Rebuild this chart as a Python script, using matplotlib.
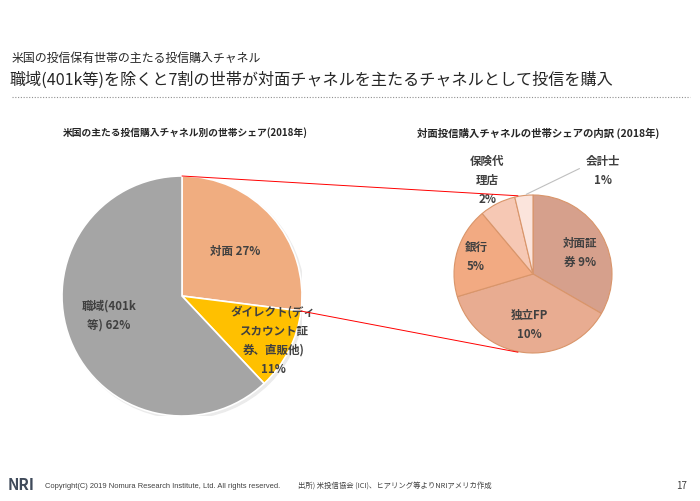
import matplotlib
matplotlib.use("Agg")
import matplotlib.pyplot as plt
from matplotlib.patches import ConnectionPatch, Circle
import numpy as np

plt.rcParams['font.family'] = ['Noto Sans CJK JP', 'DejaVu Sans']

# ---- data ----
main_labels = ["対面 27%", "ダイレクト(ディ\nスカウント証\n券、直販他)\n11%", "職域(401k\n等) 62%"]
main_values = [27, 11, 62]
main_colors = ["#F0AD80", "#FFC000", "#A5A5A5"]

sub_labels = ["対面証\n券 9%", "独立FP\n10%", "銀行\n5%", "保険代\n理店\n2%", "会計士\n1%"]
sub_values = [9, 10, 5, 2, 1]
sub_colors = ["#D6A08C", "#E8AC91", "#F2AA82", "#F6C8B4", "#FBE4DC"]

W, H = 700, 501
fig = plt.figure(figsize=(W / 100, H / 100), dpi=100)
fig.patch.set_facecolor("white")

def px_axes(cx, cy, r):
    return fig.add_axes([(cx - r) / W, (H - cy - r) / H, 2 * r / W, 2 * r / H])

txt = "#404040"

# titles
fig.text(12 / W, 1 - 58 / H, "米国の投信保有世帯の主たる投信購入チャネル", fontsize=8.6, color="#262626", va="center")
fig.text(10 / W, 1 - 80 / H, "職域(401k等)を除くと7割の世帯が対面チャネルを主たるチャネルとして投信を購入",
         fontsize=11.6, color="#262626", va="center")
fig.add_artist(plt.Line2D([12 / W, 690 / W], [1 - 97 / H, 1 - 97 / H], color="#909090", lw=0.8,
                          linestyle=(0, (1, 1.5)), transform=fig.transFigure))

fig.text(185 / W, 1 - 133 / H, "米国の主たる投信購入チャネル別の世帯シェア(2018年)", fontsize=7, fontweight="bold",
         color="#262626", ha="center", va="center")
fig.text(538 / W, 1 - 133 / H, "対面投信購入チャネルの世帯シェアの内訳 (2018年)", fontsize=7.5, fontweight="bold",
         color="#262626", ha="center", va="center")

# left pie
ax1 = px_axes(182, 296, 120)
ax1.add_patch(Circle((0.02, -0.02), 1.0, color="#EBEBEB", zorder=0))
w1, _ = ax1.pie(main_values, colors=main_colors, startangle=90, counterclock=False,
                wedgeprops=dict(edgecolor="white", linewidth=1.2))
ax1.set_xlim(-1, 1); ax1.set_ylim(-1, 1); ax1.set_aspect("equal"); ax1.axis("off")

lab_pos1 = [(0.44, 0.375), (0.76, -0.375), (-0.61, -0.16)]
for (x, y), lab in zip(lab_pos1, main_labels):
    ax1.text(x, y, lab, ha="center", va="center", fontsize=8.3, fontweight="bold", color=txt, linespacing=1.6)

# right pie
ax2 = px_axes(533, 274, 79)
w2, _ = ax2.pie(sub_values, colors=sub_colors, startangle=90, counterclock=False,
                wedgeprops=dict(edgecolor="#D9956A", linewidth=0.8))
ax2.set_xlim(-1, 1); ax2.set_ylim(-1, 1); ax2.set_aspect("equal"); ax2.axis("off")

lab_pos2 = [(0.6, 0.27), (-0.04, -0.64), (-0.72, 0.22), (-0.58, 1.18), (0.89, 1.30)]
for (x, y), lab in zip(lab_pos2, sub_labels):
    ax2.text(x, y, lab, ha="center", va="center", fontsize=8.3, fontweight="bold", color=txt, linespacing=1.6)

# leader line for 会計士
a_mid = np.deg2rad((w2[-1].theta1 + w2[-1].theta2) / 2)
ax2.annotate("", xy=(np.cos(a_mid), np.sin(a_mid)), xytext=(0.62, 1.35),
             arrowprops=dict(arrowstyle="-", color="#BFBFBF", lw=0.8), annotation_clip=False)

# connection lines
t_top = np.deg2rad(w1[0].theta2)
t_bot = np.deg2rad(w1[0].theta1)
for t, tgt in [(t_top, (-0.19, 0.99)), (t_bot, (-0.19, -0.99))]:
    con = ConnectionPatch(xyA=(np.cos(t), np.sin(t)), coordsA=ax1.transData,
                          xyB=tgt, coordsB=ax2.transData, color="#FF0000", lw=0.7)
    fig.add_artist(con)

# footer
fig.text(8 / W, 1 - 485 / H, "NRI", fontsize=11, fontweight="bold", color="#3F4A5A", va="center")
fig.text(45 / W, 1 - 486 / H, "Copyright(C) 2019 Nomura Research Institute, Ltd. All rights reserved.",
         fontsize=5.4, color="#404040", va="center", family=["Liberation Sans", "DejaVu Sans"])
fig.text(298 / W, 1 - 486 / H, "出所) 米投信協会 (ICI)、ヒアリング等よりNRIアメリカ作成", fontsize=5.3,
         color="#404040", va="center")
fig.text(682 / W, 1 - 486 / H, "17", fontsize=7, color="#404040", va="center", ha="center")

fig.savefig("out.png", dpi=100, facecolor="white")
